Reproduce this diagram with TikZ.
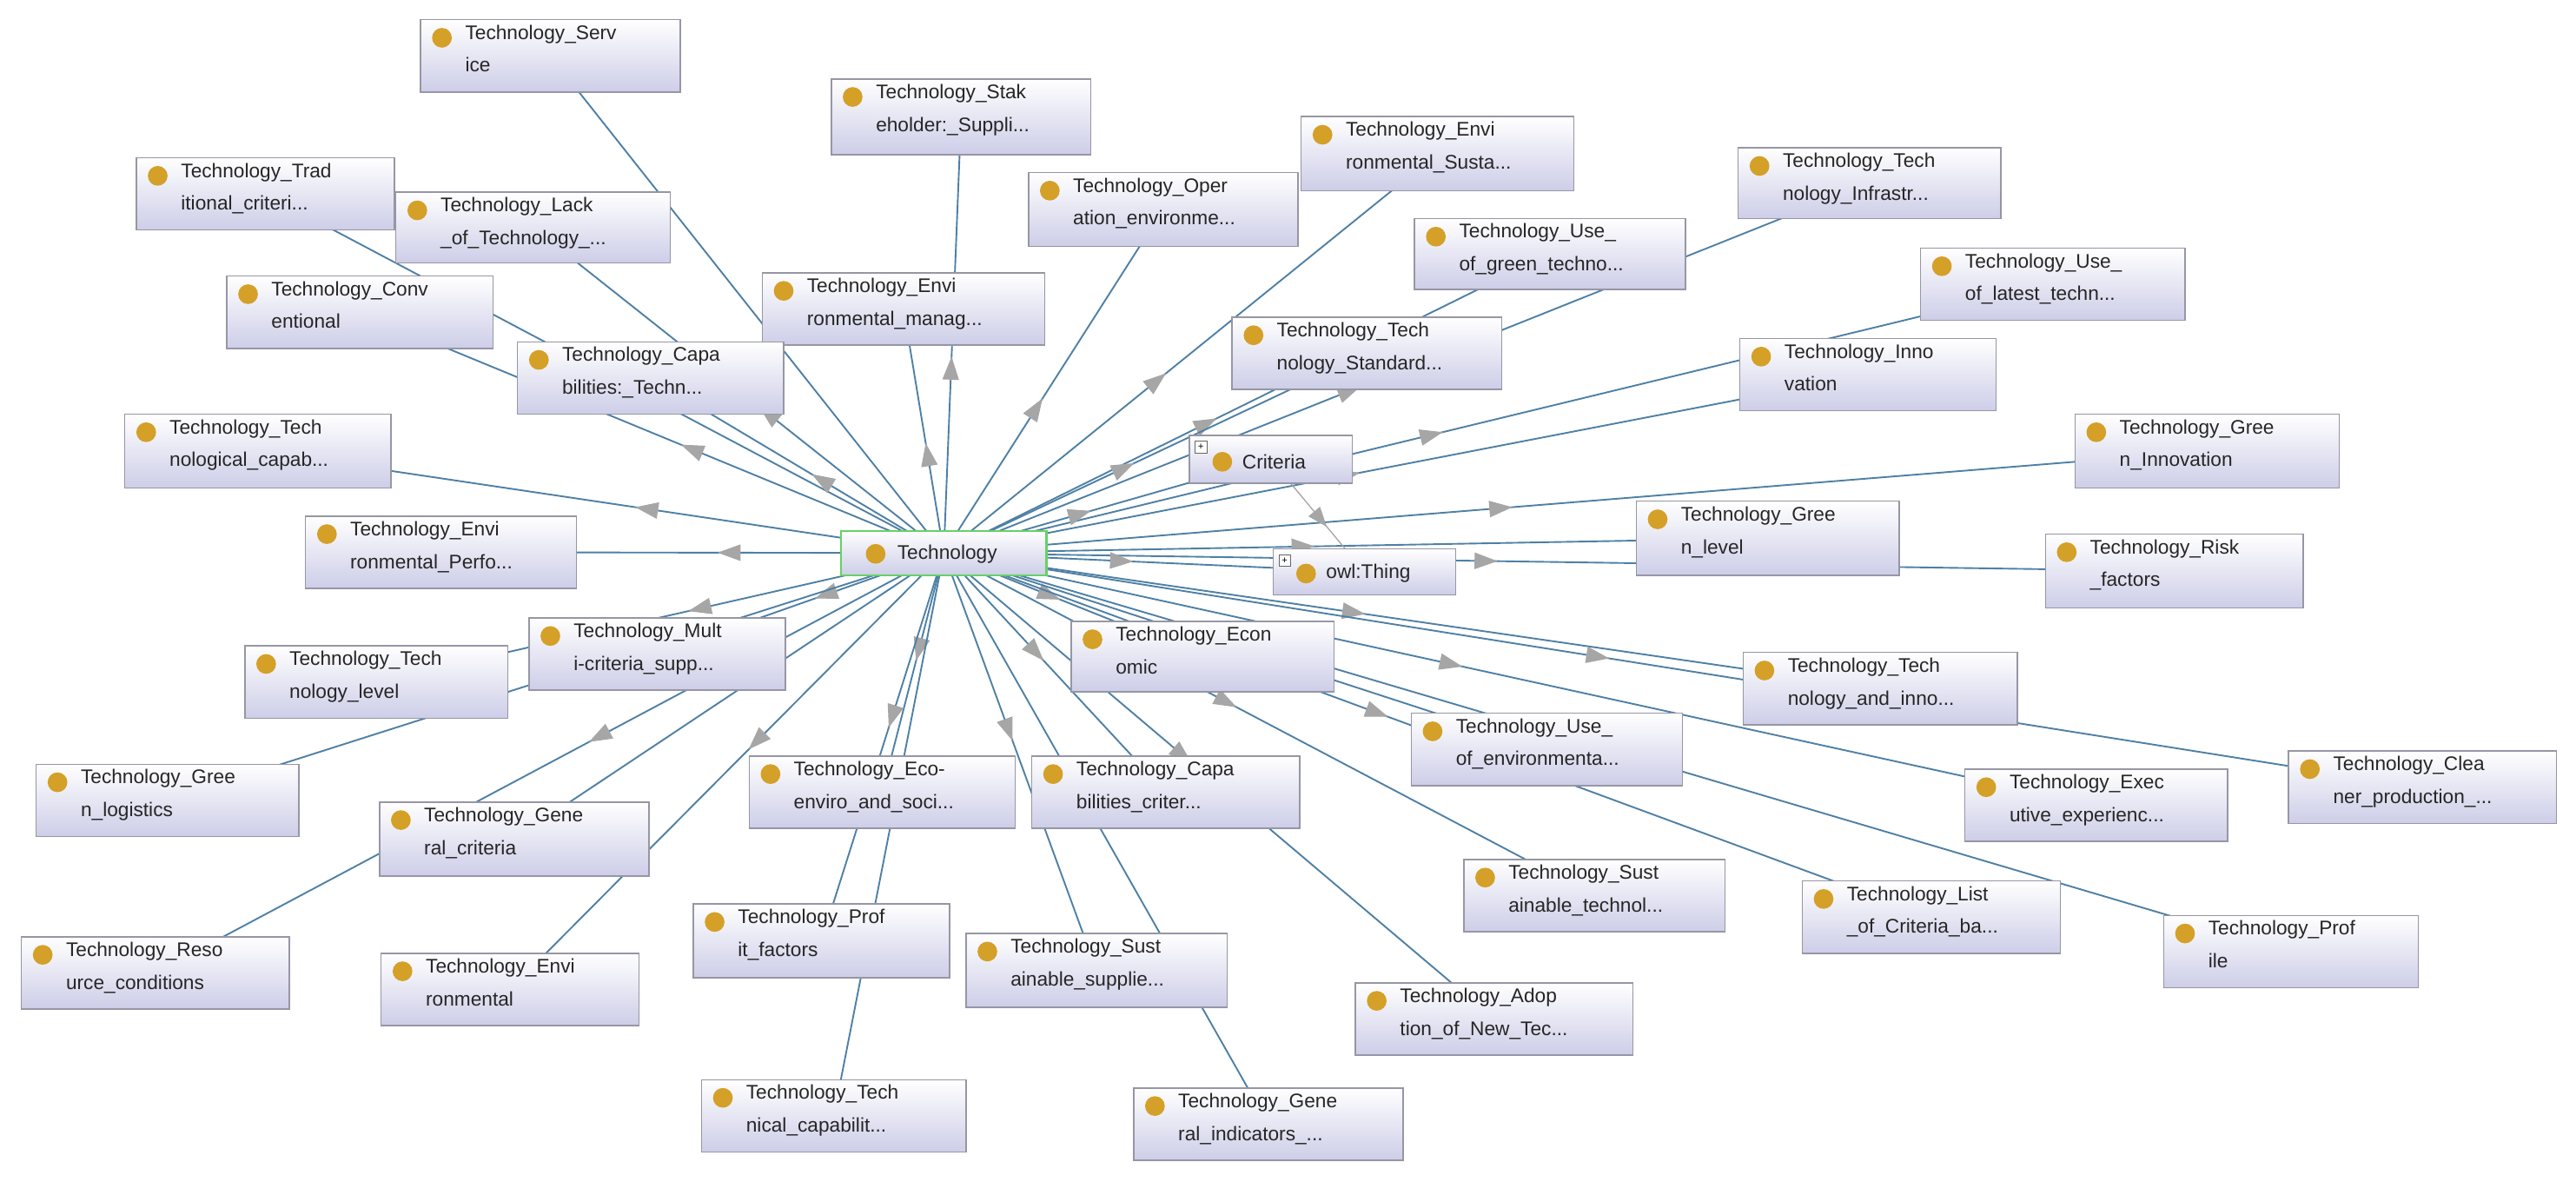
\documentclass[tikz,border=0pt]{standalone}
\usepackage{fontspec}
\setmainfont{Liberation Sans}
\usetikzlibrary{arrows.meta,decorations.markings}
\pgfdeclarelayer{background}\pgfsetlayers{background,main}
\definecolor{edgec}{RGB}{78,128,165}
\definecolor{dotc}{RGB}{212,160,40}
\definecolor{boxb}{RGB}{205,205,232}
\definecolor{bord}{RGB}{150,150,165}
\tikzset{
 box/.style={draw=bord,line width=0.8pt,top color=white,bottom color=boxb,inner sep=0pt},
 txt/.style={inner sep=0pt,align=left,font=\fontsize{12}{20}\selectfont,text=black!85},
 edge/.style={draw=edgec,line width=1pt,postaction={decorate},
  decoration={markings,mark=at position 0.45 with {\arrow[draw=black!35,fill=white,line width=0.6pt]{Triangle[length=14pt,width=10pt]}}}},
 plus/.style={draw=black!60,fill=white,minimum size=7pt,inner sep=0pt,font=\fontsize{6}{6}\selectfont}
}
\newcommand\NB[7]{%
 \pgfmathsetmacro\cx{(#2+#4)/2}\pgfmathsetmacro\cy{(#3+#5)/2}%
 \pgfmathsetmacro\w{#4-#2}\pgfmathsetmacro\h{#5-#3}%
 \node[box,minimum width=\w pt,minimum height=\h pt] (#1) at (\cx,\cy) {};
 \fill[dotc] (#2+13,#3+11) circle (6);
 \node[txt,anchor=north west] (#1t) at (#2+27,#3+3) {#6\\#7};
}
\begin{document}
\begin{tikzpicture}[x=1pt,y=-1pt]
\useasboundingbox (0,0) rectangle (1568,719);
\NB{serv}{256}{12}{414}{56}{Technology\_Serv}{ice}
\NB{stak}{506}{48}{664}{94}{Technology\_Stak}{eholder:\_Suppli...}
\NB{trad}{83}{96}{240}{140}{Technology\_Trad}{itional\_criteri...}
\NB{lack}{241}{117}{408}{160}{Technology\_Lack}{\_of\_Technology\_...}
\NB{oper}{626}{105}{790}{150}{Technology\_Oper}{ation\_environme...}
\NB{esus}{792}{71}{958}{116}{Technology\_Envi}{ronmental\_Susta...}
\NB{infr}{1058}{90}{1218}{133}{Technology\_Tech}{nology\_Infrastr...}
\NB{ugreen}{861}{133}{1026}{176}{Technology\_Use\_}{of\_green\_techno...}
\NB{conv}{138}{168}{300}{212}{Technology\_Conv}{entional}
\NB{eman}{464}{166}{636}{210}{Technology\_Envi}{ronmental\_manag...}
\NB{ulat}{1169}{151}{1330}{195}{Technology\_Use\_}{of\_latest\_techn...}
\NB{capa}{315}{208}{477}{252}{Technology\_Capa}{bilities:\_Techn...}
\NB{stan}{750}{193}{914}{237}{Technology\_Tech}{nology\_Standard...}
\NB{inno}{1059}{206}{1215}{250}{Technology\_Inno}{vation}
\NB{tcap}{76}{252}{238}{297}{Technology\_Tech}{nological\_capab...}
\NB{ginn}{1263}{252}{1424}{297}{Technology\_Gree}{n\_Innovation}
\NB{eper}{186}{314}{351}{358}{Technology\_Envi}{ronmental\_Perfo...}
\NB{glev}{996}{305}{1156}{350}{Technology\_Gree}{n\_level}
\NB{risk}{1245}{325}{1402}{370}{Technology\_Risk}{\_factors}
\NB{mult}{322}{376}{478}{420}{Technology\_Mult}{i-criteria\_supp...}
\NB{tlev}{149}{393}{309}{437}{Technology\_Tech}{nology\_level}
\NB{econ}{652}{378}{812}{421}{Technology\_Econ}{omic}
\NB{tinn}{1061}{397}{1228}{441}{Technology\_Tech}{nology\_and\_inno...}
\NB{uenv}{859}{434}{1024}{478}{Technology\_Use\_}{of\_environmenta...}
\NB{clea}{1393}{457}{1556}{501}{Technology\_Clea}{ner\_production\_...}
\NB{exec}{1196}{468}{1356}{512}{Technology\_Exec}{utive\_experienc...}
\NB{glog}{22}{465}{182}{509}{Technology\_Gree}{n\_logistics}
\NB{gcri}{231}{488}{395}{533}{Technology\_Gene}{ral\_criteria}
\NB{eco}{456}{460}{618}{504}{Technology\_Eco-}{enviro\_and\_soci...}
\NB{ccri}{628}{460}{791}{504}{Technology\_Capa}{bilities\_criter...}
\NB{stec}{891}{523}{1050}{567}{Technology\_Sust}{ainable\_technol...}
\NB{list}{1097}{536}{1254}{580}{Technology\_List}{\_of\_Criteria\_ba...}
\NB{prof}{1317}{557}{1472}{601}{Technology\_Prof}{ile}
\NB{reso}{13}{570}{176}{614}{Technology\_Reso}{urce\_conditions}
\NB{envi}{232}{580}{389}{624}{Technology\_Envi}{ronmental}
\NB{prfa}{422}{550}{578}{595}{Technology\_Prof}{it\_factors}
\NB{ssup}{588}{568}{747}{613}{Technology\_Sust}{ainable\_supplie...}
\NB{adop}{825}{598}{994}{642}{Technology\_Adop}{tion\_of\_New\_Tec...}
\NB{tnic}{427}{657}{588}{701}{Technology\_Tech}{nical\_capabilit...}
\NB{gind}{690}{662}{854}{706}{Technology\_Gene}{ral\_indicators\_...}
% single-line nodes
\node[box,minimum width=99pt,minimum height=29pt] (crit) at (773.5,279.5) {};
\fill[dotc] (744,281) circle (6);
\node[txt,anchor=west] at (756,281) {Criteria};
\node[plus] at (731,272) {+};
\node[box,minimum width=111pt,minimum height=28pt] (owl) at (830.5,348) {};
\fill[dotc] (795,349) circle (6);
\node[txt,anchor=west] at (807,349) {owl:Thing};
\node[plus] at (782,341) {+};
\node[box,draw=green!70!black!60,line width=1.2pt,minimum width=125pt,minimum height=27pt] (tech) at (574.5,336.5) {};
\fill[dotc] (533,337) circle (6);
\node[txt,anchor=west] at (546,337) {Technology};
\begin{pgfonlayer}{background}
\fill[white] (0,0) rectangle (1568,719);
\foreach \n in {serv,stak,trad,lack,oper,esus,infr,ugreen,conv,eman,ulat,capa,stan,inno,tcap,ginn,eper,glev,risk,mult,tlev,econ,tinn,uenv,clea,exec,glog,gcri,eco,ccri,stec,list,prof,reso,envi,prfa,ssup,adop,tnic,gind,crit,owl}
 \draw[edge] (tech.center) -- (\n.center);
\draw[draw=black!35,line width=0.7pt,postaction={decorate},decoration={markings,mark=at position 0.6 with {\arrow[fill=white]{Triangle[length=12pt,width=9pt]}}}] (crit.center) -- (owl.center);
\end{pgfonlayer}
\end{tikzpicture}
\end{document}
